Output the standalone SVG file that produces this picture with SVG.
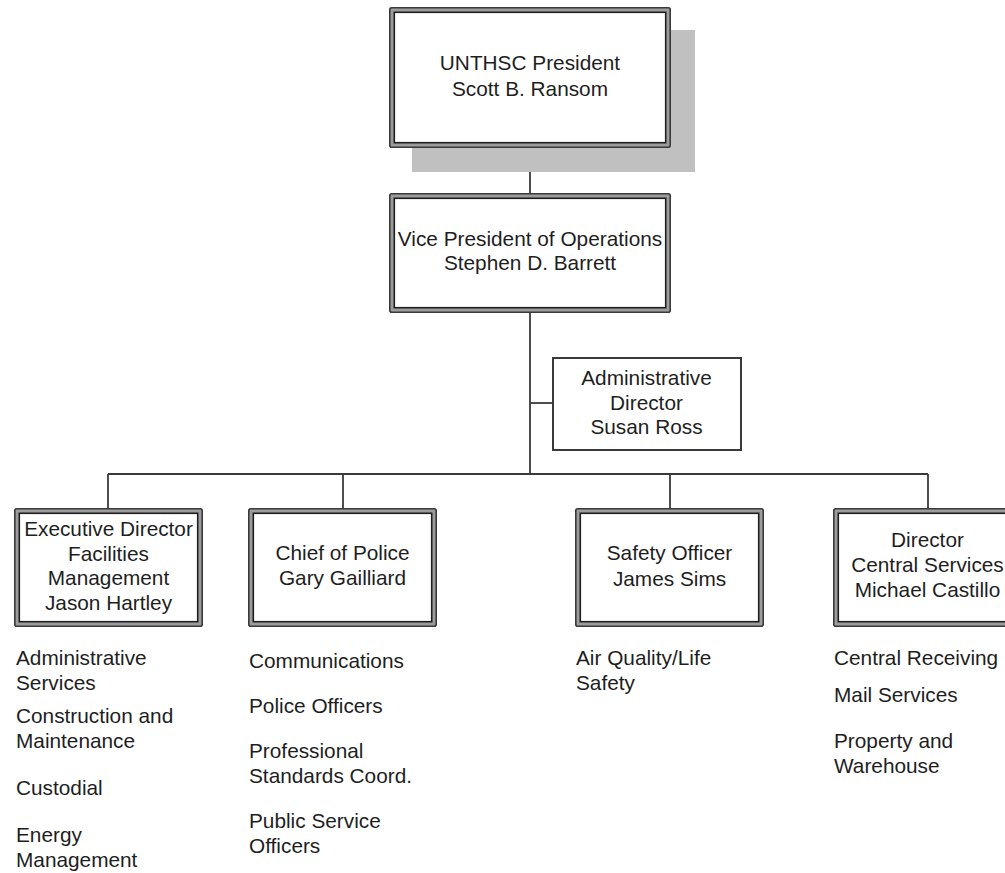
<svg xmlns="http://www.w3.org/2000/svg" width="1005" height="873" viewBox="0 0 1005 873">
<style>
text{font-family:"Liberation Sans",Arial,sans-serif;font-size:20.8px;fill:#1e1e1e}
.c{text-anchor:middle}
.band{fill:#fff;stroke:#9c9c9c;stroke-width:5}
.o{fill:none;stroke:#3a3a3a;stroke-width:1.6}
.i{fill:none;stroke:#1e1e1e;stroke-width:1.6}
.single{fill:#fff;stroke:#3a3a3a;stroke-width:2}
.ln{fill:none;stroke:#3a3a3a;stroke-width:1.8}
.shadow{fill:#c0c0c0}
</style>
<rect width="1005" height="873" fill="#fff"/>
<g id="connectors">
<line class="ln" x1="530" y1="148" x2="530" y2="193"/>
<line class="ln" x1="530" y1="313" x2="530" y2="474"/>
<line class="ln" x1="530" y1="403" x2="552" y2="403"/>
<line class="ln" x1="108" y1="474" x2="928" y2="474"/>
<line class="ln" x1="108" y1="474" x2="108" y2="508"/>
<line class="ln" x1="343" y1="474" x2="343" y2="508"/>
<line class="ln" x1="670" y1="474" x2="670" y2="508"/>
<line class="ln" x1="928" y1="474" x2="928" y2="508"/>
</g>
<g id="president">
<rect class="shadow" x="412" y="30" width="283" height="142"/>
<rect class="band" x="391.5" y="9.5" width="277" height="136" rx="1"/>
<rect class="o" x="389.8" y="7.8" width="280.4" height="139.4" rx="2"/>
<rect class="i" x="394.3" y="12.3" width="271.4" height="130.4"/>
<text class="c" x="530" y="70">UNTHSC President</text>
<text class="c" x="530" y="96">Scott B. Ransom</text>
</g>
<g id="vp">
<rect class="band" x="391.5" y="195.5" width="277" height="115" rx="1"/>
<rect class="o" x="389.8" y="193.8" width="280.4" height="118.4" rx="2"/>
<rect class="i" x="394.3" y="198.3" width="271.4" height="109.4"/>
<text class="c" x="530" y="246">Vice President of Operations</text>
<text class="c" x="530" y="270">Stephen D. Barrett</text>
</g>
<g id="admin-director">
<rect class="single" x="553" y="358" width="188" height="92"/>
<text class="c" x="646.5" y="385">Administrative</text>
<text class="c" x="646.5" y="410">Director</text>
<text class="c" x="646.5" y="434">Susan Ross</text>
</g>
<g id="facilities">
<rect class="band" x="16.5" y="510.5" width="184" height="114" rx="1"/>
<rect class="o" x="14.8" y="508.8" width="187.4" height="117.4" rx="2"/>
<rect class="i" x="19.3" y="513.3" width="178.4" height="108.4"/>
<text class="c" x="108.5" y="536">Executive Director</text>
<text class="c" x="108.5" y="561">Facilities</text>
<text class="c" x="108.5" y="585">Management</text>
<text class="c" x="108.5" y="610">Jason Hartley</text>
</g>
<g id="police">
<rect class="band" x="250.5" y="510.5" width="184" height="114" rx="1"/>
<rect class="o" x="248.8" y="508.8" width="187.4" height="117.4" rx="2"/>
<rect class="i" x="253.3" y="513.3" width="178.4" height="108.4"/>
<text class="c" x="342.5" y="560">Chief of Police</text>
<text class="c" x="342.5" y="585">Gary Gailliard</text>
</g>
<g id="safety">
<rect class="band" x="577.5" y="510.5" width="184" height="114" rx="1"/>
<rect class="o" x="575.8" y="508.8" width="187.4" height="117.4" rx="2"/>
<rect class="i" x="580.3" y="513.3" width="178.4" height="108.4"/>
<text class="c" x="669.5" y="560">Safety Officer</text>
<text class="c" x="669.5" y="586">James Sims</text>
</g>
<g id="central-services">
<rect class="band" x="835.5" y="510.5" width="184" height="114" rx="1"/>
<rect class="o" x="833.8" y="508.8" width="187.4" height="117.4" rx="2"/>
<rect class="i" x="838.3" y="513.3" width="178.4" height="108.4"/>
<text class="c" x="927.5" y="547">Director</text>
<text class="c" x="927.5" y="572">Central Services</text>
<text class="c" x="927.5" y="597">Michael Castillo</text>
</g>
<g id="facilities-units">
<text x="16" y="665">Administrative</text>
<text x="16" y="690">Services</text>
<text x="16" y="723">Construction and</text>
<text x="16" y="748">Maintenance</text>
<text x="16" y="795">Custodial</text>
<text x="16" y="842">Energy</text>
<text x="16" y="867">Management</text>
</g>
<g id="police-units">
<text x="249" y="668">Communications</text>
<text x="249" y="713">Police Officers</text>
<text x="249" y="758">Professional</text>
<text x="249" y="783">Standards Coord.</text>
<text x="249" y="828">Public Service</text>
<text x="249" y="853">Officers</text>
</g>
<g id="safety-units">
<text x="576" y="665">Air Quality/Life</text>
<text x="576" y="690">Safety</text>
</g>
<g id="central-units">
<text x="834" y="665">Central Receiving</text>
<text x="834" y="702">Mail Services</text>
<text x="834" y="748">Property and</text>
<text x="834" y="773">Warehouse</text>
</g>
</svg>
